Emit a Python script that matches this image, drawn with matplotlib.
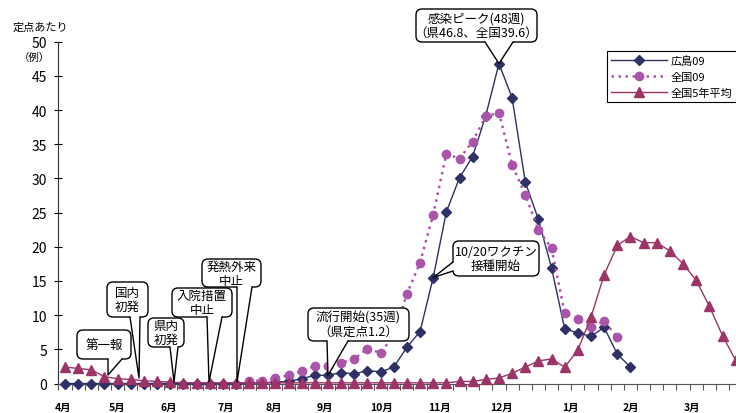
import numpy as np
import matplotlib.pyplot as plt
from matplotlib.patches import FancyBboxPatch, Polygon
from matplotlib.lines import Line2D
from matplotlib.transforms import IdentityTransform

plt.rcParams['font.family'] = ['Noto Sans CJK JP', 'DejaVu Sans']

nan = np.nan
# weekly values, week 15 (Apr) .. week 13 of next year
hiroshima09 = [0]*14 + [0.1, 0.1, 0.2, 0.3, 0.7, 1.2, 1.2, 1.6, 1.4, 1.9, 1.7, 2.4,
                        5.3, 7.6, 15.5, 25.1, 30.1, 33.2, 39.2, 46.8, 41.8, 29.5,
                        24.0, 16.9, 8.0, 7.4, 6.9, 8.2, 4.3, 2.4] + [nan]*8
zenkoku09 = [nan]*14 + [0.4, 0.4, 0.8, 1.2, 1.8, 2.6, 2.6, 3.0, 3.6, 5.1, 4.5, 7.0,
                        13.1, 17.7, 24.7, 33.6, 32.9, 35.4, 39.1, 39.6, 32.0, 27.6,
                        22.5, 19.8, 10.3, 9.4, 8.3, 9.1, 6.8] + [nan]*9
avg5y = [2.4, 2.2, 2.0, 1.0, 0.7, 0.6, 0.4, 0.3, 0.2, 0.1] + [0.1]*20 + \
        [0.3, 0.3, 0.6, 0.8, 1.5, 2.4, 3.3, 3.6, 2.4, 4.9, 9.7, 15.9, 20.2,
         21.5, 20.6, 20.6, 19.4, 17.5, 15.1, 11.3, 7.0, 3.4]
months = ['4月', '5月', '6月', '7月', '8月', '9月', '10月', '11月', '12月', '1月', '2月', '3月']
month_pos = [-0.15, 3.95, 7.9, 12.2, 15.9, 19.8, 24.1, 28.5, 33.2, 38.4, 43.0, 47.7]
labels = ['広島09', '全国09', '全国5年平均']

navy = '#2E3066'
purple = '#AA55AA'
maroon = '#9C3468'

W, H = 736, 414
fig = plt.figure(figsize=(W/100, H/100), dpi=100)
step = 13.15
xl = 65 - 0.5*step
xr = 65 + 51.5*step
ax = fig.add_axes([xl/W, (H-384.5)/H, (xr-xl)/W, (384.5-42.7)/H])

x = np.arange(len(avg5y))
ax.plot(x, hiroshima09, color=navy, lw=1.0, marker='D', ms=5.5, mfc=navy, mec=navy,
        label=labels[0], clip_on=False, zorder=3)
ax.plot(x, zenkoku09, color=purple, lw=1.8, ls=(0, (1, 1.8)), marker='o', ms=7,
        mfc=purple, mec='none', label=labels[1], clip_on=False, zorder=4)
ax.plot(x, avg5y, color=maroon, lw=1.0, marker='^', ms=7.5, mfc=maroon, mec=maroon,
        label=labels[2], clip_on=False, zorder=5)

ax.set_xlim(-0.5, 51.5)
ax.set_ylim(0, 50)
ax.set_yticks(range(0, 51, 5))
ax.tick_params(axis='y', direction='inout', length=6, width=0.8, labelsize=10, pad=5)
ax.set_xticks(month_pos)
ax.set_xticklabels(months, fontsize=7.5, fontweight='bold')
ax.tick_params(axis='x', which='major', length=0, pad=13)
ax.set_xticks(np.arange(-0.5, 52, 1), minor=True)
ax.tick_params(axis='x', which='minor', direction='out', length=4, width=0.8, color='#555555')
for s in ['top', 'right']:
    ax.spines[s].set_visible(False)
ax.spines['left'].set_color('#333333')
ax.spines['bottom'].set_color('#555555')

leg = ax.legend(loc='upper left', bbox_to_anchor=(607/W, 1-52/H), bbox_transform=fig.transFigure,
                borderaxespad=0, fancybox=False, edgecolor='black', framealpha=1, fontsize=8,
                handlelength=5, numpoints=1, labelspacing=0.5, borderpad=0.4, handletextpad=0.3)
leg.get_frame().set_linewidth(0.8)

fig.text(13/W, 1-28/H, '定点あたり', fontsize=8, ha='left', va='center')
fig.text(34/W, 1-58/H, '（例）', fontsize=7.5, ha='center', va='center')


def callout(text, box, b1, b2, tip, inward, size=9):
    # box / b1 / b2 in image pixels, tip in display pixels
    bx0, by0, bx1, by1 = box
    idt = IdentityTransform()
    fig.add_artist(FancyBboxPatch((bx0, H-by1), bx1-bx0, by1-by0,
                                  boxstyle='round,pad=0,rounding_size=6', transform=idt,
                                  fc='white', ec='black', lw=1.0, zorder=10))
    p1 = np.array([b1[0], H-b1[1]])
    p2 = np.array([b2[0], H-b2[1]])
    d = np.array(inward)
    fig.add_artist(Polygon([p1+d, p2+d, p2, tip, p1], closed=True, transform=idt,
                           fc='white', ec='none', zorder=11))
    fig.add_artist(Line2D([p1[0], tip[0], p2[0]], [p1[1], tip[1], p2[1]], color='black',
                          lw=1.0, transform=idt, zorder=12))
    fig.text((bx0+bx1)/2/W, 1-(by0+by1)/2/H, text, fontsize=size, ha='center', va='center',
             linespacing=1.12, zorder=13)


def pt(xp, yp):
    return np.array([xp, H-yp])


def dpt(i, v):
    return ax.transData.transform((i, v))


up = (0, 2.5)
callout('第一報', (77, 331, 131, 360), (108, 360), (122, 360), pt(108, 376), up)
callout('国内\n初発', (107, 283, 148, 318), (130, 318), (140, 318), pt(139, 379), up)
callout('県内\n初発', (148, 319, 184, 348), (170, 348), (178, 348), pt(174, 383), up)
callout('入院措置\n中止', (172, 289, 232, 318), (207, 318), (222, 318), pt(209, 383), up)
callout('発熱外来\n中止', (202, 260, 261, 288), (237, 288), (252, 288), pt(237, 383), up)
callout('流行開始(35週)\n（県定点1.2）', (308, 309, 409, 342), (327, 342), (348, 342),
        dpt(20, hiroshima09[20]), up)
callout('10/20ワクチン\n接種開始', (453, 242, 539, 277), (453, 263), (453, 272),
        dpt(28, hiroshima09[28]), (2.5, 0))
callout('感染ピーク(48週)\n（県46.8、全国39.6）', (416, 10, 537, 43), (485, 43), (513, 43),
        dpt(33, hiroshima09[33]), up)

fig.savefig('out.png', dpi=100)
